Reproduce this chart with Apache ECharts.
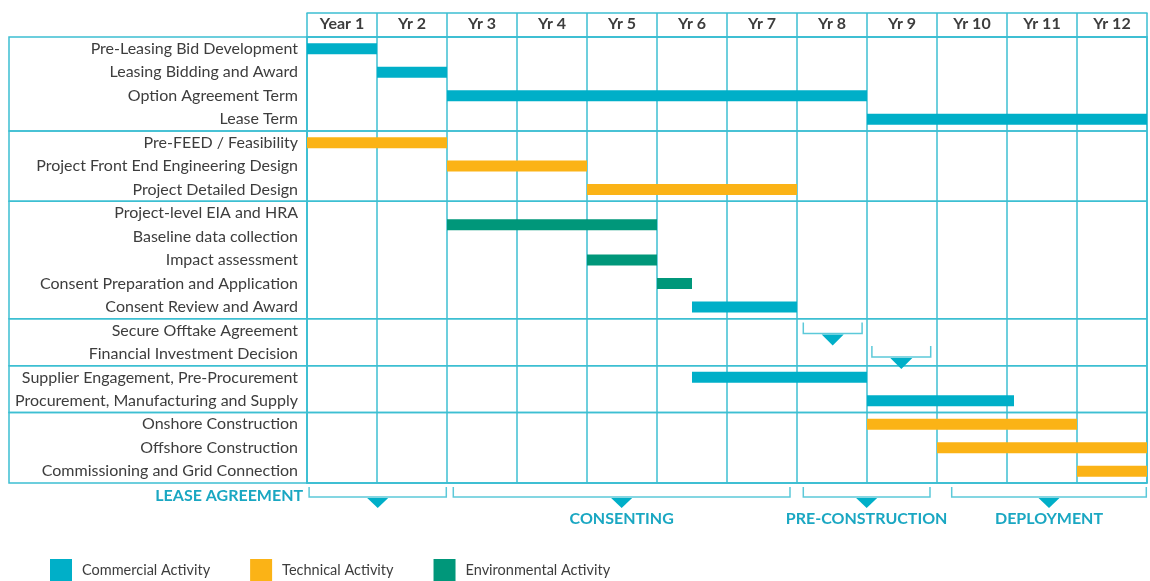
<!DOCTYPE html>
<html>
<head>
<meta charset="utf-8">
<script src="https://cdn.jsdelivr.net/npm/echarts@6/dist/echarts.min.js"></script>
<style>
html,body{margin:0;padding:0;background:#fff;}
#chart{width:1150px;height:581px;}
</style>
</head>
<body>
<div id="chart"></div>
<script>
// ---------- data ----------
const years = ['Year 1','Yr 2','Yr 3','Yr 4','Yr 5','Yr 6','Yr 7','Yr 8','Yr 9','Yr 10','Yr 11','Yr 12'];
const tasks = [
  'Pre-Leasing Bid Development',
  'Leasing Bidding and Award',
  'Option Agreement Term',
  'Lease Term',
  'Pre-FEED / Feasibility',
  'Project Front End Engineering Design',
  'Project Detailed Design',
  'Project-level EIA and HRA',
  'Baseline data collection',
  'Impact assessment',
  'Consent Preparation and Application',
  'Consent Review and Award',
  'Secure Offtake Agreement',
  'Financial Investment Decision',
  'Supplier Engagement, Pre-Procurement',
  'Procurement, Manufacturing and Supply',
  'Onshore Construction',
  'Offshore Construction',
  'Commissioning and Grid Connection'
];
const groups = [
  ['Pre-Leasing Bid Development', 'Lease Term'],
  ['Pre-FEED / Feasibility', 'Project Detailed Design'],
  ['Project-level EIA and HRA', 'Consent Review and Award'],
  ['Secure Offtake Agreement', 'Financial Investment Decision'],
  ['Supplier Engagement, Pre-Procurement', 'Procurement, Manufacturing and Supply'],
  ['Onshore Construction', 'Commissioning and Grid Connection']
];
// [start year, end year, task (, second task when the bar sits between two rows)]
const commercial = [
  [0, 1, 'Pre-Leasing Bid Development'],
  [1, 2, 'Leasing Bidding and Award'],
  [2, 8, 'Option Agreement Term'],
  [8, 12, 'Lease Term'],
  [5.5, 7, 'Consent Review and Award'],
  [5.5, 8, 'Supplier Engagement, Pre-Procurement'],
  [8, 10.1, 'Procurement, Manufacturing and Supply']
];
const technical = [
  [0, 2, 'Pre-FEED / Feasibility'],
  [2, 4, 'Project Front End Engineering Design'],
  [4, 7, 'Project Detailed Design'],
  [8, 11, 'Onshore Construction'],
  [9, 12, 'Offshore Construction'],
  [11, 12, 'Commissioning and Grid Connection']
];
const environmental = [
  [2, 5, 'Project-level EIA and HRA', 'Baseline data collection'],
  [4, 5, 'Impact assessment'],
  [5, 5.5, 'Consent Preparation and Application']
];
const milestones = [
  [7.09, 7.93, 'Secure Offtake Agreement'],
  [8.07, 8.91, 'Financial Investment Decision']
];
const phases = [
  [0.03, 1.99, 'LEASE AGREEMENT'],
  [2.09, 6.90, 'CONSENTING'],
  [7.09, 8.90, 'PRE-CONSTRUCTION'],
  [9.21, 11.99, 'DEPLOYMENT']
];
const legendNames = ['Commercial Activity', 'Technical Activity', 'Environmental Activity'];

// ---------- styles ----------
const C_BAR = '#00AFC8', C_TECH = '#FBB316', C_ENV = '#00977A';
const C_LINE = '#3DBFD2', C_TEXT = '#3d3d3d', C_PHASE = '#1AA7C2';
const FONT = 'Lato';

function toBarData(arr) {
  return arr.map(r => {
    const a = tasks.indexOf(r[2]);
    const b = r.length > 3 ? tasks.indexOf(r[3]) : a;
    return [r[0], r[1], a, b];
  });
}
function barRender(params, api) {
  const s = api.coord([api.value(0), api.value(2)]);
  const e = api.coord([api.value(1), api.value(2)]);
  const y2 = api.coord([api.value(0), api.value(3)])[1];
  const yc = (s[1] + y2) / 2;
  const h = 11;
  return { type: 'rect', shape: { x: s[0], y: yc - h / 2, width: e[0] - s[0], height: h },
           style: { fill: api.visual('color') } };
}
function frameRender(params, api) {
  const g = groups[params.dataIndex];
  const cs = params.coordSys;
  const band = api.size([0, 1])[1];
  const yTop = api.coord([0, tasks.indexOf(g[0])])[1] - band / 2;
  const yBot = api.coord([0, tasks.indexOf(g[1])])[1] + band / 2;
  const xl = cs.x - 298, xr = cs.x + cs.width;
  return { type: 'group', children: [
    { type: 'polyline', shape: { points: [[xr, yTop], [xl, yTop], [xl, yBot], [xr, yBot]] },
      style: { stroke: C_LINE, lineWidth: 1.5, fill: null } }
  ]};
}
function milestoneRender(params, api) {
  const m = milestones[params.dataIndex];
  const r = tasks.indexOf(m[2]);
  const p1 = api.coord([m[0], r]);
  const p2 = api.coord([m[1], r]);
  const yc = p1[1];
  const top = yc - 8, bot = yc + 3;
  const cx = (p1[0] + p2[0]) / 2;
  return { type: 'group', children: [
    { type: 'polyline', shape: { points: [[p1[0], top], [p1[0], bot], [p2[0], bot], [p2[0], top]] },
      style: { stroke: '#5CC9D9', lineWidth: 1.5, fill: null } },
    { type: 'polygon', shape: { points: [[cx - 11, bot + 1], [cx + 11, bot + 1], [cx, bot + 12]] },
      style: { fill: C_BAR } }
  ]};
}
function phaseRender(params, api) {
  const p = phases[params.dataIndex];
  const cs = params.coordSys;
  const x1 = api.coord([p[0], 0])[0];
  const x2 = api.coord([p[1], 0])[0];
  const base = cs.y + cs.height;
  const top = base + 4, bot = base + 14;
  const cx = (x1 + x2) / 2;
  const first = params.dataIndex === 0;
  return { type: 'group', children: [
    { type: 'polyline', shape: { points: [[x1, top], [x1, bot], [x2, bot], [x2, top]] },
      style: { stroke: '#5CC9D9', lineWidth: 1.5, fill: null } },
    { type: 'polygon', shape: { points: [[cx - 10.5, bot + 1], [cx + 10.5, bot + 1], [cx, bot + 11]] },
      style: { fill: C_BAR } },
    { type: 'text', x: first ? x1 - 6 : cx, y: first ? base + 13 : base + 36,
      style: { text: p[2], fill: C_PHASE, font: 'bold 16px ' + FONT,
               align: first ? 'right' : 'center', verticalAlign: 'middle' } }
  ]};
}

const chart = echarts.init(document.getElementById('chart'), null, { renderer: 'canvas' });
chart.setOption({
  animation: false,
  backgroundColor: '#ffffff',
  grid: { left: 307, right: 3, top: 37, bottom: 98, show: true, borderColor: C_LINE, borderWidth: 1.5,
          backgroundColor: 'transparent' },
  legend: {
    data: legendNames, left: 50, top: 559, itemWidth: 22, itemHeight: 22, icon: 'rect',
    itemGap: 40, padding: 0, selectedMode: false,
    textStyle: { fontFamily: FONT, fontSize: 14.5, color: C_TEXT, padding: [0, 0, 0, 5] }
  },
  xAxis: [
    { type: 'value', min: 0, max: 12, interval: 1, position: 'bottom',
      axisLine: { show: true, lineStyle: { color: C_LINE, width: 1.5 } },
      axisTick: { show: false }, axisLabel: { show: false },
      splitLine: { show: true, lineStyle: { color: C_LINE, width: 1.5 } } },
    { type: 'category', data: years, position: 'top', boundaryGap: true,
      axisLine: { show: true, lineStyle: { color: C_LINE, width: 1.5 } },
      axisTick: { show: true, length: 24, inside: false, lineStyle: { color: C_LINE, width: 1.5 } },
      axisLabel: { margin: 5, fontFamily: FONT, fontWeight: 'bold', fontSize: 16, color: C_TEXT },
      splitLine: { show: false } },
    { type: 'value', min: 0, max: 12, position: 'top', offset: 24,
      axisLine: { show: true, lineStyle: { color: C_LINE, width: 1.5 } },
      axisTick: { show: false }, axisLabel: { show: false }, splitLine: { show: false } }
  ],
  yAxis: {
    type: 'category', data: tasks, inverse: true,
    axisLine: { show: true, lineStyle: { color: C_LINE, width: 1.5 } },
    axisTick: { show: false }, splitLine: { show: false },
    axisLabel: { margin: 9, fontFamily: FONT, fontSize: 16, color: C_TEXT, interval: 0 }
  },
  series: [
    { type: 'custom', name: 'frame', renderItem: frameRender, silent: true, z: 1,
      data: groups.map(g => [0, tasks.indexOf(g[0])]), encode: { x: 0, y: 1 } },
    { type: 'custom', name: legendNames[0], renderItem: barRender, itemStyle: { color: C_BAR },
      data: toBarData(commercial), encode: { x: [0, 1], y: [2, 3] }, z: 3 },
    { type: 'custom', name: legendNames[1], renderItem: barRender, itemStyle: { color: C_TECH },
      data: toBarData(technical), encode: { x: [0, 1], y: [2, 3] }, z: 3 },
    { type: 'custom', name: legendNames[2], renderItem: barRender, itemStyle: { color: C_ENV },
      data: toBarData(environmental), encode: { x: [0, 1], y: [2, 3] }, z: 3 },
    { type: 'custom', name: 'milestones', renderItem: milestoneRender, silent: true, z: 3,
      data: milestones.map(m => [m[0], tasks.indexOf(m[2])]), encode: { x: 0, y: 1 } },
    { type: 'custom', name: 'phases', renderItem: phaseRender, silent: true, z: 3, clip: false,
      data: phases.map(p => [p[0], 0]), encode: { x: 0, y: 1 } }
  ]
});
</script>
</body>
</html>
